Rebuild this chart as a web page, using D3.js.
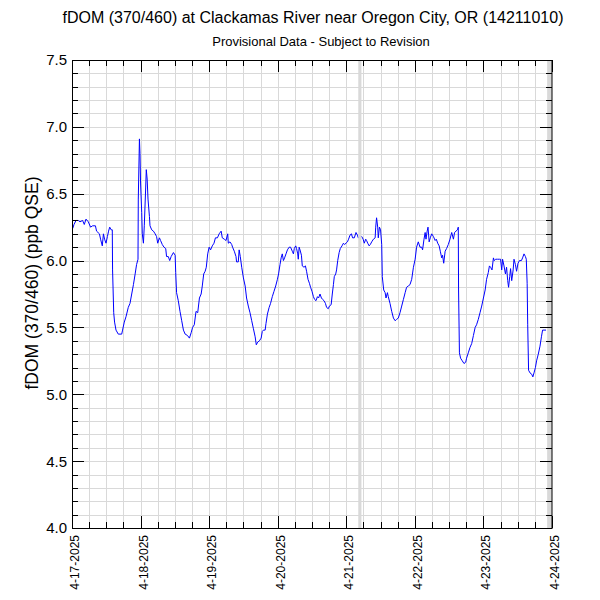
<!DOCTYPE html>
<html>
<head>
<meta charset="utf-8">
<script src="https://cdn.jsdelivr.net/npm/d3@7/dist/d3.min.js"></script>
<style>
  html, body { margin: 0; padding: 0; background: #fff; }
  svg { display: block; }
  text { font-family: "Liberation Sans", Arial, Helvetica, sans-serif; fill: #000; }
</style>
</head>
<body>
<svg id="chart" width="600" height="600"></svg>
<script>
// ---- Data (hours since 4-17-2025 00:00, fDOM ppb QSE) ----
const titleText = "fDOM (370/460) at Clackamas River near Oregon City, OR (14211010)";
const subtitleText = "Provisional Data - Subject to Revision";
const yLabelText = "fDOM (370/460) (ppb QSE)";
const startDate = new Date(2025, 3, 17);
const endDate = new Date(2025, 3, 24);
const yTickLabels = ["4.0", "4.5", "5.0", "5.5", "6.0", "6.5", "7.0", "7.5"];
const dateTickLabels = ["4-17-2025", "4-18-2025", "4-19-2025", "4-20-2025", "4-21-2025", "4-22-2025", "4-23-2025", "4-24-2025"];
// gray gap bands (hours)
const gapStart = [100.2, 166.3];
const gapEnd = [101.3, 168.0];

const hours = [
  0.25,0.7,1.4,2.2,2.8,3.7,4.3,4.9,5.7,6.5,7.2,8.2,8.6,9.6,10.0,10.6,11.0,11.4,11.9,12.4,
  12.8,13.2,13.7,14.1,14.2,14.6,14.9,15.4,16.2,17.4,17.7,18.3,18.9,19.7,20.3,20.9,21.5,22.1,22.6,23.1,
  23.2,23.6,23.8,24.0,24.4,24.6,25.0,25.3,25.8,26.0,26.3,26.6,27.1,27.3,27.9,28.5,29.1,29.6,30.0,30.6,
  31.0,31.6,32.2,32.8,33.1,33.7,34.2,34.7,35.5,36.1,36.3,36.6,37.2,37.8,38.4,39.0,39.6,40.4,41.1,41.7,
  42.2,42.8,43.4,44.0,44.6,45.2,45.6,46.1,46.6,47.0,47.5,48.0,48.5,49.1,49.7,50.2,50.9,51.5,52.2,52.6,
  53.3,53.9,54.5,54.7,55.3,55.9,56.2,56.8,57.4,57.6,58.2,58.5,58.9,59.4,60.0,60.6,61.1,61.7,62.3,62.9,
  63.5,64.1,64.5,65.0,65.6,66.2,66.6,67.0,67.6,67.9,68.4,69.0,69.5,70.1,70.7,71.3,71.9,72.3,72.8,73.2,
  73.6,74.0,74.4,74.9,75.4,76.0,76.5,77.1,77.5,77.8,78.3,78.6,79.0,79.2,79.5,79.8,80.3,80.6,81.2,81.7,
  82.1,82.6,83.1,83.5,84.0,84.5,84.9,85.4,85.9,86.3,86.8,87.3,87.7,88.2,88.7,89.1,89.7,90.1,90.7,91.1,
  91.5,91.8,92.3,92.6,93.0,93.5,93.9,94.5,95.0,95.4,95.9,96.4,96.8,97.3,97.8,98.2,98.8,99.4,99.9,100.2,
  101.4,101.9,102.3,102.8,103.1,103.5,104.0,104.4,104.9,105.5,106.1,106.3,106.6,107.0,107.2,107.6,108.0,108.4,108.6,109.1,
  109.6,109.9,110.4,110.7,111.3,111.9,112.5,113.1,113.6,114.2,114.8,115.4,116.0,116.6,117.1,117.7,118.3,118.9,119.5,120.1,
  120.6,121.2,121.8,122.4,122.7,123.2,123.6,123.9,124.3,124.6,125.0,125.4,125.9,126.5,127.1,127.5,128.0,128.5,128.9,129.4,
  129.7,130.1,130.6,131.1,131.7,132.3,132.9,133.5,133.9,134.4,134.9,135.2,135.3,135.6,136.0,136.6,137.2,137.8,138.1,138.7,
  139.3,139.9,140.5,141.1,141.6,142.2,142.8,143.4,144.0,144.6,145.1,145.7,146.1,146.5,147.0,147.5,147.8,148.3,148.9,149.6,
  150.0,150.4,150.7,151.2,151.7,152.1,152.5,152.8,153.2,153.5,153.9,154.4,154.7,155.2,155.6,156.1,156.6,157.3,157.7,158.2,
  158.7,159.0,159.3,159.5,159.8,160.3,160.9,161.3,161.7,162.2,162.6,163.2,163.8,164.3,164.7,165.2,165.9
];
const fdom = [
  6.24,6.27,6.30,6.30,6.29,6.30,6.27,6.31,6.29,6.25,6.26,6.26,6.22,6.20,6.16,6.11,6.20,6.16,6.13,6.18,
  6.22,6.25,6.23,6.23,5.93,5.61,5.54,5.48,5.45,5.45,5.48,5.54,5.58,5.65,5.68,5.75,5.82,5.90,5.97,6.01,
  6.46,6.91,6.80,6.58,6.36,6.20,6.13,6.26,6.55,6.68,6.61,6.46,6.33,6.26,6.23,6.22,6.20,6.18,6.13,6.17,
  6.15,6.12,6.10,6.09,6.03,6.03,6.00,6.03,6.06,6.04,5.91,5.76,5.70,5.62,5.55,5.48,5.45,5.44,5.42,5.46,
  5.50,5.52,5.62,5.61,5.72,5.75,5.81,5.90,5.92,5.95,6.05,6.10,6.08,6.11,6.13,6.17,6.17,6.20,6.22,6.17,
  6.16,6.15,6.20,6.13,6.14,6.12,6.10,6.07,6.03,5.99,5.99,6.08,6.03,5.95,5.87,5.81,5.72,5.66,5.61,5.55,
  5.49,5.43,5.37,5.39,5.40,5.42,5.47,5.48,5.48,5.53,5.60,5.65,5.68,5.73,5.77,5.81,5.86,5.90,5.97,6.02,
  6.05,6.00,6.02,6.05,6.08,6.10,6.10,6.07,6.05,6.09,6.11,6.09,6.05,6.01,6.10,6.08,6.04,5.96,5.95,5.96,
  5.92,5.86,5.83,5.80,5.77,5.73,5.71,5.70,5.73,5.72,5.75,5.72,5.71,5.70,5.68,5.65,5.64,5.66,5.67,5.75,
  5.82,5.88,5.90,5.93,6.00,6.06,6.09,6.11,6.13,6.12,6.13,6.14,6.16,6.19,6.20,6.17,6.17,6.21,6.19,6.17,
  6.18,6.16,6.13,6.16,6.15,6.13,6.11,6.12,6.14,6.16,6.17,6.25,6.32,6.25,6.17,6.25,6.23,6.12,5.88,5.78,
  5.76,5.72,5.76,5.73,5.68,5.62,5.57,5.55,5.56,5.57,5.61,5.66,5.71,5.76,5.80,5.81,5.82,5.86,5.95,6.01,
  6.10,6.14,6.10,6.10,6.08,6.16,6.21,6.16,6.22,6.25,6.14,6.17,6.20,6.18,6.15,6.16,6.13,6.11,6.07,6.02,
  6.04,5.98,6.07,6.09,6.12,6.16,6.21,6.16,6.21,6.22,6.23,6.25,5.78,5.31,5.27,5.25,5.23,5.24,5.27,5.31,
  5.35,5.38,5.44,5.50,5.52,5.56,5.61,5.66,5.72,5.78,5.86,5.91,5.96,5.95,5.93,6.02,6.00,6.01,6.01,6.01,
  6.01,5.93,6.01,5.96,5.90,5.95,5.85,5.80,5.88,5.94,5.85,5.93,6.01,5.97,5.92,5.98,6.00,6.00,6.02,6.05,
  6.03,6.01,5.83,5.52,5.18,5.16,5.15,5.13,5.16,5.20,5.25,5.30,5.36,5.43,5.48,5.48,5.48
];

// ---- Layout ----
const margin = { left: 72, top: 60, right: 48, bottom: 72 };
const W = 600, H = 600;
const plotW = W - margin.left - margin.right;   // 480
const plotH = H - margin.top - margin.bottom;   // 468
const HOUR = 3600 * 1000;
const toDate = h => new Date(startDate.getTime() + h * HOUR);

const svg = d3.select("#chart");
const g = svg.append("g").attr("transform", `translate(${margin.left},${margin.top})`);

const x = d3.scaleTime().domain([startDate, endDate]).range([0, plotW]);
const y = d3.scaleLinear().domain([4.0, 7.5]).range([plotH, 0]);

const data = hours.map((h, i) => ({ t: toDate(h), v: fdom[i] }));

// ---- Grid ----
const yMinor = d3.range(0, 36).map(i => +(4 + i * 0.1).toFixed(1));
const xMinor = d3.range(0, 29).map(i => toDate(i * 6));
const yMajor = yTickLabels.map(Number);
const xMajor = d3.range(0, 8).map(i => toDate(i * 24));

g.append("g").selectAll("line").data(yMinor.filter(v => v > 4.0)).join("line")
  .attr("x1", 0).attr("x2", plotW)
  .attr("y1", d => Math.round(y(d)) + 0.5).attr("y2", d => Math.round(y(d)) + 0.5)
  .attr("stroke", "#d9d9d9").attr("stroke-width", 1);
g.append("g").selectAll("line").data(xMinor.slice(1, -1)).join("line")
  .attr("y1", 0).attr("y2", plotH)
  .attr("x1", d => Math.round(x(d)) + 0.5).attr("x2", d => Math.round(x(d)) + 0.5)
  .attr("stroke", "#d9d9d9").attr("stroke-width", 1);

// ---- Line ----
const line = d3.line().x(d => x(d.t)).y(d => y(d.v));
g.append("path").datum(data)
  .attr("fill", "none").attr("stroke", "#0000ff").attr("stroke-width", 1)
  .attr("d", line);

// ---- Gap bands ----
g.append("g").selectAll("rect").data(gapStart.map((s, i) => [s, gapEnd[i]])).join("rect")
  .attr("x", d => x(toDate(d[0])))
  .attr("width", d => x(toDate(d[1])) - x(toDate(d[0])))
  .attr("y", 0).attr("height", plotH)
  .attr("fill", "#d9d9d9");

// ---- Frame ----
g.append("rect").attr("x", 0.5).attr("y", 0.5).attr("width", plotW - 1 + 0.5).attr("height", plotH)
  .attr("fill", "none").attr("stroke", "#000").attr("stroke-width", 1);

// ---- Ticks (inward) ----
const tickG = g.append("g").attr("stroke", "#000").attr("stroke-width", 1);
yMinor.concat([7.5]).forEach(v => {
  const isMajor = Math.abs(v * 2 - Math.round(v * 2)) < 1e-6;
  const len = isMajor ? 12 : 6;
  const yy = Math.round(y(v)) + 0.5;
  tickG.append("line").attr("x1", 0).attr("x2", len).attr("y1", yy).attr("y2", yy);
  tickG.append("line").attr("x1", plotW).attr("x2", plotW - len).attr("y1", yy).attr("y2", yy);
});
xMinor.forEach((d, i) => {
  const len = (i % 4 === 0) ? 12 : 6;
  const xx = Math.round(x(d)) + 0.5;
  tickG.append("line").attr("x1", xx).attr("x2", xx).attr("y1", plotH).attr("y2", plotH - len);
  tickG.append("line").attr("x1", xx).attr("x2", xx).attr("y1", 0).attr("y2", len);
});

// ---- Tick labels ----
g.append("g").selectAll("text").data(yMajor).join("text")
  .attr("x", -5).attr("y", d => y(d)).attr("dy", "0.36em")
  .attr("text-anchor", "end").style("font-size", "15px")
  .text((d, i) => yTickLabels[i]);

g.append("g").selectAll("text").data(xMajor).join("text")
  .attr("transform", d => `translate(${x(d) + 7},${plotH + 7}) rotate(-90)`)
  .attr("text-anchor", "end").style("font-size", "12px")
  .text((d, i) => dateTickLabels[i]);

// ---- Titles ----
svg.append("text").attr("x", 313).attr("y", 23).attr("text-anchor", "middle")
  .style("font-size", "16px").text(titleText);
svg.append("text").attr("x", 321).attr("y", 46).attr("text-anchor", "middle")
  .style("font-size", "13px").text(subtitleText);
svg.append("text").attr("transform", `translate(38,283) rotate(-90)`)
  .attr("text-anchor", "middle").style("font-size", "17.5px").text(yLabelText);
</script>
</body>
</html>
